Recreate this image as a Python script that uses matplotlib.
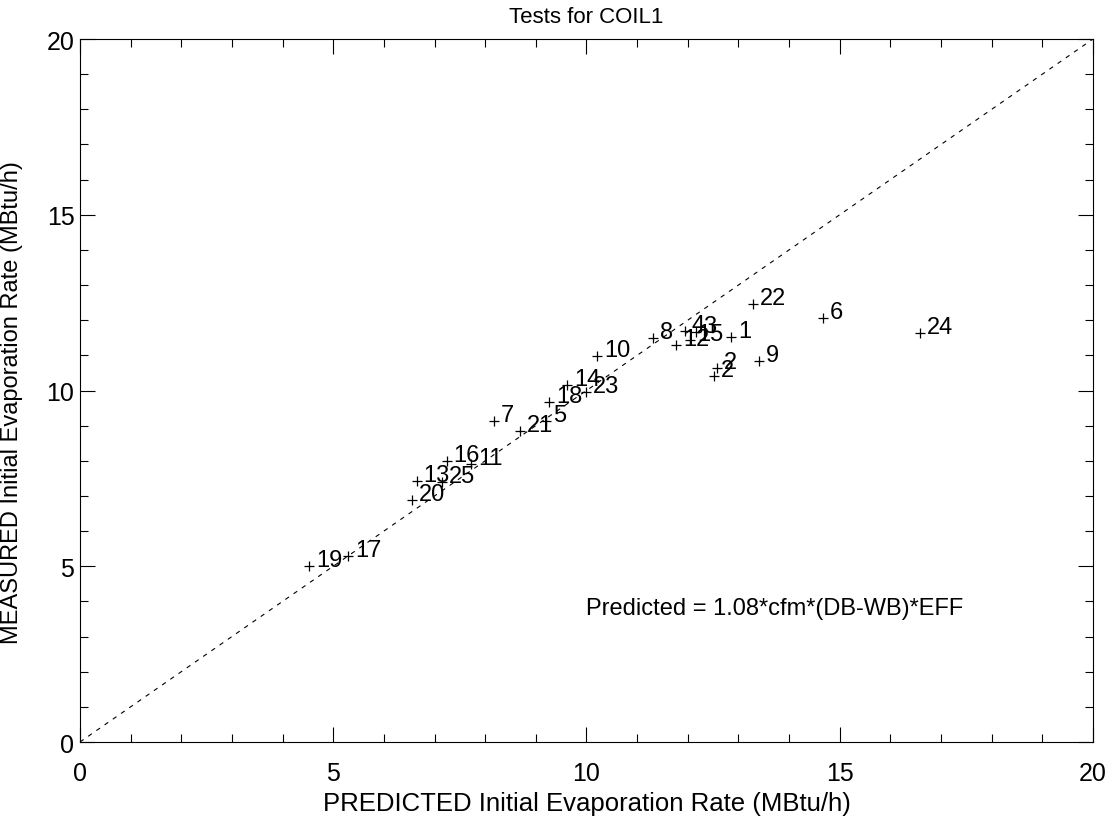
import matplotlib
matplotlib.use("Agg")
import matplotlib.pyplot as plt
from matplotlib.ticker import MultipleLocator

plt.rcParams["font.family"] = ["Liberation Sans", "DejaVu Sans"]

# test numbers with predicted / measured evaporation rate (MBtu/h)
tests = ["1", "2", "2", "3", "4", "5", "6", "7", "8", "9", "10", "11", "12",
         "13", "14", "15", "16", "17", "18", "19", "20", "21", "22", "23",
         "24", "25"]
predicted = [12.85, 12.57, 12.52, 12.17, 11.94, 9.21, 14.66, 8.17, 11.32,
             13.41, 10.21, 7.73, 11.77, 6.65, 9.62, 12.05, 7.24, 5.30, 9.26,
             4.52, 6.55, 8.69, 13.28, 9.99, 16.58, 7.14]
measured = [11.53, 10.63, 10.40, 11.66, 11.70, 9.14, 12.05, 9.12, 11.48,
            10.85, 10.98, 7.91, 11.30, 7.43, 10.16, 11.45, 8.00, 5.30, 9.68,
            5.02, 6.88, 8.86, 12.46, 9.95, 11.64, 7.40]

fig = plt.figure(figsize=(11.12, 8.2), dpi=100)
ax = fig.add_axes([0.0719, 0.0939, 0.911, 0.8573])

ax.plot([0, 20], [0, 20], color="black", lw=0.8, dashes=(4, 5))
ax.plot(predicted, measured, "+", color="black", ms=7, mew=0.9)
for t, x, y in zip(tests, predicted, measured):
    ax.annotate(t, (x, y), xytext=(5, 0), textcoords="offset points",
                ha="left", va="baseline", fontsize=17)

ax.text(10.0, 3.8, "Predicted = 1.08*cfm*(DB-WB)*EFF", fontsize=17,
        ha="left", va="center")

ax.set_xlim(0, 20)
ax.set_ylim(0, 20)
ax.xaxis.set_major_locator(MultipleLocator(5))
ax.yaxis.set_major_locator(MultipleLocator(5))
ax.xaxis.set_minor_locator(MultipleLocator(1))
ax.yaxis.set_minor_locator(MultipleLocator(1))
ax.tick_params(which="both", direction="in", top=True, right=True,
               labelsize=18, width=0.8)
ax.tick_params(which="major", length=11)
ax.tick_params(which="minor", length=6)
ax.tick_params(axis="x", which="major", pad=14)
ax.tick_params(axis="y", which="major", pad=4)
for s in ax.spines.values():
    s.set_linewidth(0.8)

ax.set_xlabel("PREDICTED Initial Evaporation Rate (MBtu/h)", fontsize=18.5,
              labelpad=4)
ax.set_ylabel("MEASURED Initial Evaporation Rate (MBtu/h)", fontsize=17)
ax.yaxis.set_label_coords(-0.056, 0.484)
ax.set_title("Tests for COIL1", fontsize=16, pad=12)

fig.savefig("out.png", dpi=100)
